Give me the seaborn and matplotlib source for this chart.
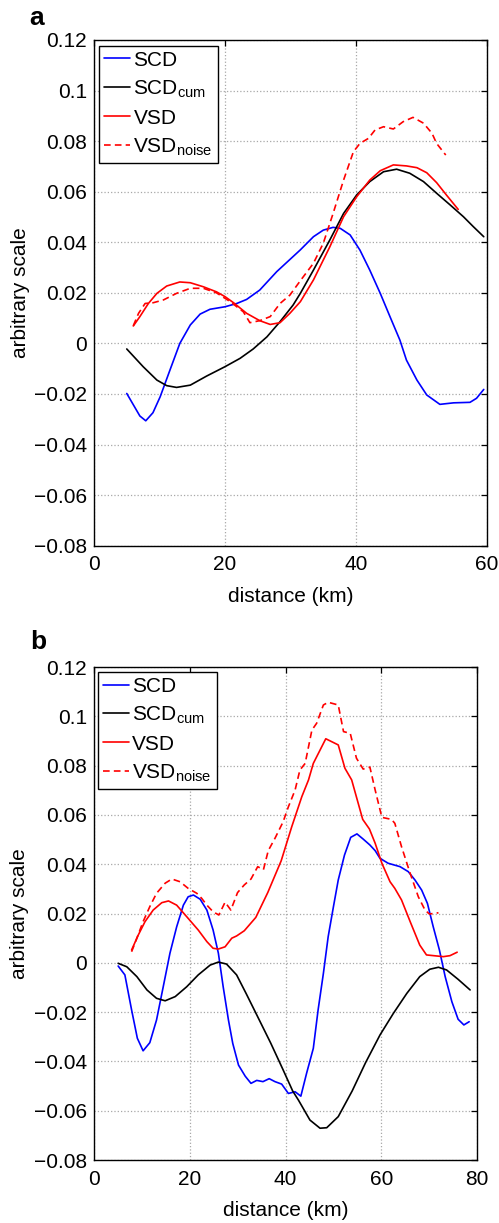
import matplotlib
matplotlib.use("Agg")
import matplotlib.pyplot as plt
import seaborn as sns

# --- panel a data ---
a_scd_x = [5.0, 7.0, 7.9, 9.0, 10.1, 11.6, 13.1, 14.7, 16.2, 17.7, 20.0, 21.8, 23.3, 25.3,
           27.9, 31.5, 33.5, 35.0, 36.5, 37.6, 39.1, 40.6, 42.1, 43.7, 45.2, 46.7, 47.7,
           49.3, 50.8, 52.8, 54.9, 57.4, 58.4, 59.5]
a_scd_y = [-0.0198, -0.0287, -0.0306, -0.0274, -0.0211, -0.0105, 0.0, 0.0073, 0.0116,
           0.0135, 0.0145, 0.0158, 0.0174, 0.0211, 0.0284, 0.0370, 0.0422, 0.0448, 0.0459,
           0.0455, 0.0429, 0.0369, 0.0290, 0.0198, 0.0105, 0.0013, -0.0066, -0.0145,
           -0.0204, -0.0241, -0.0235, -0.0233, -0.0217, -0.0182]

a_cum_x = [5.0, 7.5, 9.6, 11.1, 12.6, 14.7, 17.2, 20.0, 22.3, 24.3, 26.4, 28.4, 30.4, 31.5,
           33.5, 36.0, 38.1, 40.1, 42.1, 44.2, 46.2, 48.2, 50.3, 52.3, 54.4, 56.4, 57.9, 59.5]
a_cum_y = [-0.0022, -0.0092, -0.0145, -0.0167, -0.0174, -0.0165, -0.0129, -0.0092, -0.0059,
           -0.0022, 0.0026, 0.0086, 0.0152, 0.0198, 0.0290, 0.0409, 0.0514, 0.0587, 0.0640,
           0.0679, 0.0689, 0.0673, 0.0640, 0.0594, 0.0547, 0.0501, 0.0462, 0.0422]

a_vsd_x = [6.0, 7.0, 8.3, 9.6, 11.1, 13.1, 14.7, 16.7, 18.7, 20.0, 21.3, 23.3, 25.3, 26.9,
           28.4, 29.9, 31.5, 33.5, 36.0, 38.1, 40.1, 42.1, 43.7, 45.7, 47.7, 49.3, 50.8,
           52.3, 53.8, 55.6]
a_vsd_y = [0.0069, 0.0106, 0.0158, 0.0198, 0.0227, 0.0243, 0.0240, 0.0224, 0.0204, 0.0185,
           0.0161, 0.0119, 0.0090, 0.0075, 0.0082, 0.0119, 0.0165, 0.0251, 0.0382, 0.0501,
           0.0580, 0.0646, 0.0683, 0.0706, 0.0702, 0.0695, 0.0675, 0.0636, 0.0587, 0.0530]

a_noise_x = [6.0, 6.8, 7.8, 9.05, 10.6, 12.6, 14.7, 16.7, 18.7, 20.8, 22.8, 23.8, 25.3, 26.9,
             28.4, 29.9, 31.5, 33.5, 35.0, 36.5, 38.1, 39.6, 40.6, 41.9, 42.9, 44.2, 45.7,
             47.2, 48.7, 50.3, 51.6, 52.3, 53.7]
a_noise_y = [0.0070, 0.0119, 0.0158, 0.0161, 0.0172, 0.0198, 0.0218, 0.0218, 0.0200, 0.0165,
             0.0125, 0.0082, 0.0090, 0.0106, 0.0158, 0.0191, 0.0248, 0.0317, 0.0396, 0.0514,
             0.0646, 0.0758, 0.0791, 0.0811, 0.0844, 0.0857, 0.0848, 0.0877, 0.0894, 0.0871,
             0.0831, 0.0791, 0.0745]

# --- panel b data ---
b_scd_x = [5.1, 6.5, 7.9, 9.1, 10.3, 11.7, 13.1, 14.5, 15.9, 17.3, 18.7, 19.7, 20.8, 22.2,
           23.6, 24.9, 26.0, 27.0, 28.1, 29.0, 30.2, 31.6, 32.8, 34.0, 35.3, 36.6, 37.8,
           39.2, 40.6, 42.0, 43.2, 44.4, 45.8, 46.8, 47.9, 48.9, 50.0, 51.0, 52.3, 53.6,
           54.9, 56.2, 57.6, 58.7, 59.7, 61.4, 63.9, 65.6, 67.0, 68.4, 69.6, 70.8, 72.1,
           73.3, 74.7, 76.0, 77.2, 78.3]
b_scd_y = [-0.0013, -0.0049, -0.0191, -0.0306, -0.0357, -0.0324, -0.0232, -0.0097, 0.0039,
           0.0146, 0.0234, 0.0268, 0.0275, 0.0258, 0.0214, 0.0133, 0.0039, -0.0097, -0.0232,
           -0.0327, -0.0415, -0.0460, -0.0489, -0.0477, -0.0482, -0.0470, -0.0482, -0.0492,
           -0.0530, -0.0523, -0.0541, -0.0448, -0.0347, -0.0191, -0.0043, 0.0106, 0.0228,
           0.0336, 0.0437, 0.0509, 0.0523, 0.0502, 0.0478, 0.0455, 0.0424, 0.0404, 0.0390,
           0.0370, 0.0336, 0.0295, 0.0241, 0.0147, 0.0052, -0.0056, -0.0158, -0.0229,
           -0.0252, -0.0239]

b_cum_x = [5.1, 6.9, 9.0, 11.1, 13.1, 14.9, 17.0, 19.4, 21.8, 24.3, 26.0, 27.7, 29.8, 31.8,
           34.1, 36.9, 39.4, 41.5, 42.7, 45.1, 47.2, 48.6, 51.0, 53.9, 56.7, 59.7, 62.5,
           65.3, 68.0, 70.1, 71.9, 73.6, 76.0, 78.5]
b_cum_y = [-0.0002, -0.0016, -0.0056, -0.0110, -0.0144, -0.0154, -0.0137, -0.0097, -0.0049,
           -0.0009, 0.0003, -0.0005, -0.0049, -0.0125, -0.0215, -0.0325, -0.0430, -0.0520,
           -0.0557, -0.0638, -0.0671, -0.0669, -0.0624, -0.0520, -0.0405, -0.0293, -0.0205,
           -0.0124, -0.0056, -0.0026, -0.0018, -0.0029, -0.0067, -0.0110]

b_vsd_x = [7.9, 9.3, 10.7, 12.4, 14.2, 15.6, 17.3, 19.4, 21.8, 23.6, 24.9, 26.0, 27.4, 28.8,
           29.8, 31.4, 33.8, 36.3, 39.1, 41.3, 43.4, 44.8, 45.8, 48.4, 51.0, 52.4, 53.8,
           56.1, 57.5, 58.7, 60.1, 61.8, 62.8, 64.2, 66.0, 68.0, 69.4, 72.9, 74.3, 75.8]
b_vsd_y = [0.0052, 0.0113, 0.0167, 0.0214, 0.0244, 0.0251, 0.0234, 0.0187, 0.0133, 0.0086,
           0.0059, 0.0056, 0.0065, 0.0100, 0.0109, 0.0130, 0.0184, 0.0285, 0.0414, 0.0552,
           0.0674, 0.0742, 0.0809, 0.0909, 0.0884, 0.0789, 0.0742, 0.0582, 0.0543, 0.0485,
           0.0404, 0.0329, 0.0302, 0.0255, 0.0167, 0.0072, 0.0032, 0.0025, 0.0029, 0.0043]

b_noise_x = [7.9, 9.0, 10.3, 11.7, 13.1, 14.9, 16.3, 18.0, 19.7, 21.5, 22.5, 23.6, 24.9,
             26.1, 27.4, 28.6, 30.0, 31.4, 32.8, 34.2, 35.4, 36.4, 37.8, 39.5, 40.6, 42.0,
             43.0, 44.1, 45.5, 46.5, 47.9, 48.9, 51.0, 52.1, 53.5, 54.8, 56.2, 57.6, 58.7,
             60.1, 62.1, 62.8, 64.2, 66.0, 67.7, 69.1, 70.0, 71.9]
b_noise_y = [0.0045, 0.0100, 0.0167, 0.0228, 0.0282, 0.0323, 0.0340, 0.0329, 0.0302, 0.0282,
             0.0262, 0.0234, 0.0207, 0.0194, 0.0246, 0.0214, 0.0285, 0.0316, 0.0340, 0.0390,
             0.0378, 0.0455, 0.0505, 0.0572, 0.0633, 0.0701, 0.0782, 0.0809, 0.0944, 0.0972,
             0.1046, 0.1057, 0.1046, 0.0938, 0.0931, 0.0830, 0.0786, 0.0794, 0.0701, 0.0590,
             0.0582, 0.0566, 0.0471, 0.0363, 0.0268, 0.0214, 0.0198, 0.0203]

labels = ["SCD", "SCD$_{\\mathrm{cum}}$", "VSD", "VSD$_{\\mathrm{noise}}$"]
y_ticks = [-0.08, -0.06, -0.04, -0.02, 0, 0.02, 0.04, 0.06, 0.08, 0.1, 0.12]
y_ticklabels = ["\u22120.08", "\u22120.06", "\u22120.04", "\u22120.02", "0",
                "0.02", "0.04", "0.06", "0.08", "0.1", "0.12"]

sns.set_style("white")
plt.rcParams['font.family'] = ['Liberation Sans', 'DejaVu Sans']
plt.rcParams['mathtext.fontset'] = 'custom'
plt.rcParams['mathtext.rm'] = 'Liberation Sans'
plt.rcParams['mathtext.it'] = 'Liberation Sans:italic'
for key in ['text.color', 'axes.labelcolor', 'xtick.color', 'ytick.color']:
    plt.rcParams[key] = 'black'

fig = plt.figure(figsize=(4.99, 12.23), dpi=100)
ax_a = fig.add_axes([0.1884, 0.5538, 0.7876, 0.4135])
ax_b = fig.add_axes([0.1878, 0.0515, 0.7687, 0.4031])


def draw_panel(ax, series, xmax, xticks, legend_anchor):
    styles = ["-", "-", "-", (0, (4, 2.5))]
    for (x, y), color, ls, lab in zip(series, ["blue", "black", "red", "red"], styles, labels):
        sns.lineplot(x=x, y=y, ax=ax, color=color, linestyle=ls, linewidth=1.2,
                     label=lab, sort=False)
    ax.set_xlim(0, xmax)
    ax.set_ylim(-0.08, 0.12)
    ax.set_xticks(xticks)
    ax.set_xticklabels([str(t) for t in xticks])
    ax.set_yticks(y_ticks)
    ax.set_yticklabels(y_ticklabels)
    ax.grid(True, linestyle=':', color='#a8a8a8', linewidth=0.9)
    ax.tick_params(direction='in', length=4, width=0.9, top=True, right=True,
                   labelsize=15, pad=5, colors='black')
    ax.tick_params(axis='x', pad=7)
    for sp in ax.spines.values():
        sp.set_visible(True)
        sp.set_color('black')
        sp.set_linewidth(1.0)
    ax.set_xlabel("distance (km)", fontsize=15, labelpad=9)
    ax.set_ylabel("arbitrary scale", fontsize=15, labelpad=3)
    leg = ax.legend(loc='upper left', bbox_to_anchor=legend_anchor, borderaxespad=0,
                    fontsize=15, handlelength=1.25, handletextpad=0.15,
                    labelspacing=0.42, borderpad=0.25, fancybox=False,
                    framealpha=1, edgecolor='black')
    leg.get_frame().set_linewidth(1.0)


draw_panel(ax_a, [(a_scd_x, a_scd_y), (a_cum_x, a_cum_y), (a_vsd_x, a_vsd_y),
                  (a_noise_x, a_noise_y)], 60, [0, 20, 40, 60], (0.013, 0.989))
draw_panel(ax_b, [(b_scd_x, b_scd_y), (b_cum_x, b_cum_y), (b_vsd_x, b_vsd_y),
                  (b_noise_x, b_noise_y)], 80, [0, 20, 40, 60, 80], (0.0104, 0.9905))

fig.text(37 / 499, 1 - 18 / 1223, "a", fontsize=19, fontweight='bold', ha='center', va='center')
fig.text(38 / 499, 1 - 642 / 1223, "b", fontsize=19, fontweight='bold', ha='center', va='center')

fig.savefig("out.png", dpi=100)
